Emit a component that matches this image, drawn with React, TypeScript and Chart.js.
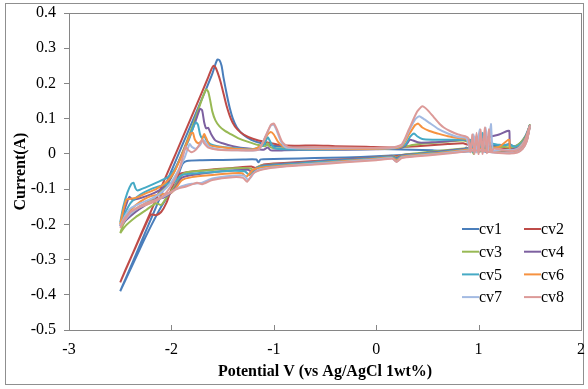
import React, { useEffect, useRef } from 'react';
import { Chart, registerables } from 'chart.js';

Chart.register(...registerables);

const seriesNames = ['cv1', 'cv2', 'cv3', 'cv4', 'cv5', 'cv6', 'cv7', 'cv8'];
const seriesColors = ['#4A7EBB', '#BE4B48', '#98B954', '#7D60A0', '#46AAC5', '#F69240', '#A3BAE2', '#DC9A98'];

const xAxisTicks = [-3, -2, -1, 0, 1, 2];
const yAxisRange = [-0.5, 0.4];

// [potential V, current A]
const cv1 = [
  [-2.50, -0.390], [-2.45, -0.356], [-2.35, -0.288], [-2.25, -0.219], [-2.15, -0.151], [-2.05, -0.082], [-1.95, -0.014],
  [-1.85, 0.055], [-1.75, 0.123], [-1.65, 0.192], [-1.60, 0.228], [-1.57, 0.255], [-1.55, 0.268], [-1.53, 0.266],
  [-1.51, 0.250], [-1.49, 0.215], [-1.46, 0.170], [-1.43, 0.130], [-1.40, 0.100], [-1.36, 0.075], [-1.30, 0.055],
  [-1.22, 0.040], [-1.12, 0.030], [-1.02, 0.024], [-0.90, 0.020], [-0.70, 0.018], [-0.40, 0.016], [-0.10, 0.015],
  [0.15, 0.013], [0.35, 0.012], [0.55, 0.010], [0.75, 0.009], [0.82, 0.012], [0.85, 0.008], [0.88, 0.018],
  [0.90, 0.010], [0.93, 0.016], [0.96, 0.012], [1.00, 0.020], [1.05, 0.022], [1.10, 0.024], [1.15, 0.023],
  [1.20, 0.026], [1.25, 0.024], [1.30, 0.028], [1.34, 0.022], [1.38, 0.025], [1.42, 0.035], [1.46, 0.052], [1.50, 0.080],
  [1.47, 0.045], [1.43, 0.022], [1.38, 0.010], [1.30, 0.005], [1.15, 0.005], [1.00, 0.008], [0.85, 0.006],
  [0.60, 0.002], [0.40, -0.001], [0.20, -0.004], [0.00, -0.007], [-0.30, -0.010], [-0.60, -0.012], [-0.90, -0.014],
  [-1.10, -0.015], [-1.13, -0.016], [-1.15, -0.024], [-1.17, -0.016], [-1.30, -0.016], [-1.50, -0.017],
  [-1.70, -0.018], [-1.85, -0.020], [-1.89, -0.028], [-1.92, -0.050], [-1.95, -0.080], [-2.00, -0.105],
  [-2.10, -0.150], [-2.20, -0.205], [-2.30, -0.265], [-2.40, -0.328], [-2.50, -0.390],
];

const cv2 = [
  [-2.50, -0.365], [-2.40, -0.298], [-2.30, -0.230], [-2.20, -0.163], [-2.10, -0.095], [-2.00, -0.028], [-1.90, 0.040],
  [-1.80, 0.108], [-1.70, 0.176], [-1.64, 0.218], [-1.61, 0.240], [-1.59, 0.250], [-1.57, 0.246], [-1.55, 0.232],
  [-1.52, 0.205], [-1.49, 0.170], [-1.46, 0.135], [-1.42, 0.100], [-1.38, 0.078], [-1.32, 0.060], [-1.25, 0.048],
  [-1.15, 0.038], [-1.05, 0.032], [-0.95, 0.026], [-0.80, 0.023], [-0.60, 0.024], [-0.40, 0.022], [-0.10, 0.020],
  [0.15, 0.018], [0.30, 0.020], [0.50, 0.024], [0.70, 0.028], [0.85, 0.030], [0.90, 0.026], [0.93, 0.040],
  [0.95, 0.015], [0.98, 0.045], [1.00, 0.012], [1.03, 0.040], [1.06, 0.015], [1.10, 0.020], [1.20, 0.018],
  [1.30, 0.016], [1.38, 0.020], [1.43, 0.033], [1.47, 0.053], [1.50, 0.080],
  [1.47, 0.040], [1.43, 0.018], [1.38, 0.008], [1.30, 0.004], [1.10, 0.006], [0.95, 0.012], [0.75, 0.006],
  [0.50, 0.000], [0.25, -0.005], [0.00, -0.010], [-0.30, -0.015], [-0.60, -0.020], [-0.90, -0.026], [-1.10, -0.030],
  [-1.14, -0.035], [-1.18, -0.040], [-1.22, -0.036], [-1.40, -0.040], [-1.60, -0.044], [-1.80, -0.050],
  [-1.90, -0.055], [-1.95, -0.065], [-2.00, -0.100], [-2.05, -0.140], [-2.10, -0.165], [-2.15, -0.174],
  [-2.20, -0.172], [-2.25, -0.200], [-2.35, -0.265], [-2.45, -0.330], [-2.50, -0.365],
];

const cv3 = [
  [-2.50, -0.225], [-2.47, -0.200], [-2.42, -0.178], [-2.35, -0.160], [-2.25, -0.140], [-2.15, -0.120], [-2.05, -0.090],
  [-1.98, -0.055], [-1.92, -0.015], [-1.85, 0.035], [-1.78, 0.090], [-1.72, 0.140], [-1.68, 0.172], [-1.66, 0.183],
  [-1.64, 0.176], [-1.62, 0.150], [-1.60, 0.120], [-1.57, 0.095], [-1.53, 0.078], [-1.48, 0.066], [-1.42, 0.056],
  [-1.35, 0.045], [-1.25, 0.034], [-1.15, 0.025], [-1.08, 0.022], [-1.06, 0.030], [-1.04, 0.020], [-1.00, 0.016],
  [-0.80, 0.015], [-0.50, 0.016], [-0.20, 0.015], [0.10, 0.015], [0.25, 0.018], [0.35, 0.025], [0.50, 0.030],
  [0.70, 0.035], [0.85, 0.038], [0.92, 0.030], [0.95, 0.000], [0.97, 0.030], [1.00, 0.005], [1.05, 0.015],
  [1.15, 0.018], [1.25, 0.020], [1.32, 0.018], [1.38, 0.025], [1.43, 0.038], [1.47, 0.055], [1.50, 0.082],
  [1.47, 0.042], [1.43, 0.020], [1.38, 0.010], [1.30, 0.006], [1.15, 0.008], [1.00, 0.020], [0.85, 0.015],
  [0.60, 0.008], [0.40, 0.002], [0.25, -0.003], [0.20, -0.010], [0.15, -0.005], [0.00, -0.010], [-0.30, -0.016],
  [-0.60, -0.022], [-0.90, -0.028], [-1.10, -0.032], [-1.15, -0.036], [-1.19, -0.048], [-1.22, -0.042],
  [-1.30, -0.040], [-1.50, -0.043], [-1.70, -0.048], [-1.85, -0.052], [-1.90, -0.060], [-1.95, -0.085],
  [-2.00, -0.105], [-2.05, -0.125], [-2.10, -0.145], [-2.15, -0.140], [-2.25, -0.160], [-2.35, -0.180],
  [-2.45, -0.205], [-2.50, -0.225],
];

const cv4 = [
  [-2.50, -0.205], [-2.47, -0.170], [-2.43, -0.135], [-2.41, -0.122], [-2.38, -0.130], [-2.30, -0.125], [-2.20, -0.115],
  [-2.10, -0.100], [-2.02, -0.075], [-1.95, -0.035], [-1.88, 0.010], [-1.80, 0.065], [-1.75, 0.105], [-1.72, 0.128],
  [-1.70, 0.124], [-1.68, 0.090], [-1.66, 0.072], [-1.64, 0.074], [-1.61, 0.055], [-1.57, 0.038], [-1.50, 0.030],
  [-1.40, 0.022], [-1.25, 0.015], [-1.10, 0.012], [-1.06, 0.018], [-1.03, 0.010], [-0.90, 0.010], [-0.60, 0.012],
  [-0.30, 0.012], [0.00, 0.013], [0.20, 0.015], [0.28, 0.022], [0.33, 0.040], [0.36, 0.038], [0.42, 0.032],
  [0.55, 0.033], [0.70, 0.036], [0.85, 0.040], [0.92, 0.035], [0.95, 0.010], [0.98, 0.045], [1.01, 0.012],
  [1.05, 0.040], [1.10, 0.048], [1.20, 0.055], [1.28, 0.065], [1.30, 0.065], [1.31, 0.012], [1.38, 0.018],
  [1.43, 0.033], [1.47, 0.052], [1.50, 0.080],
  [1.47, 0.040], [1.43, 0.018], [1.38, 0.008], [1.30, 0.005], [1.15, 0.007], [1.00, 0.018], [0.85, 0.014],
  [0.60, 0.006], [0.40, 0.000], [0.25, -0.004], [0.20, -0.012], [0.15, -0.006], [0.00, -0.010], [-0.30, -0.016],
  [-0.60, -0.022], [-0.90, -0.028], [-1.10, -0.033], [-1.16, -0.040], [-1.21, -0.052], [-1.25, -0.045],
  [-1.40, -0.047], [-1.60, -0.052], [-1.80, -0.060], [-1.90, -0.068], [-1.95, -0.090], [-2.00, -0.110],
  [-2.08, -0.125], [-2.15, -0.128], [-2.25, -0.145], [-2.35, -0.165], [-2.45, -0.190], [-2.50, -0.205],
];

const cv5 = [
  [-2.50, -0.195], [-2.47, -0.150], [-2.43, -0.110], [-2.39, -0.085], [-2.37, -0.082], [-2.35, -0.098], [-2.33, -0.104],
  [-2.25, -0.095], [-2.14, -0.081], [-2.03, -0.065], [-1.96, -0.040], [-1.90, -0.005], [-1.83, 0.040], [-1.78, 0.080],
  [-1.76, 0.090], [-1.74, 0.082], [-1.72, 0.055], [-1.70, 0.045], [-1.68, 0.052], [-1.66, 0.040], [-1.62, 0.028],
  [-1.55, 0.022], [-1.40, 0.017], [-1.20, 0.014], [-1.10, 0.025], [-1.06, 0.047], [-1.04, 0.038], [-1.00, 0.018],
  [-0.90, 0.013], [-0.60, 0.012], [-0.30, 0.013], [0.00, 0.014], [0.20, 0.016], [0.28, 0.025], [0.33, 0.048],
  [0.37, 0.058], [0.40, 0.050], [0.45, 0.042], [0.55, 0.040], [0.70, 0.040], [0.85, 0.040], [0.92, 0.040],
  [0.95, 0.005], [0.98, 0.050], [1.01, 0.008], [1.04, 0.060], [1.07, 0.008], [1.10, 0.030], [1.20, 0.025],
  [1.30, 0.026], [1.36, 0.020], [1.42, 0.030], [1.47, 0.052], [1.50, 0.080],
  [1.47, 0.040], [1.43, 0.018], [1.38, 0.008], [1.30, 0.004], [1.15, 0.006], [1.00, 0.016], [0.85, 0.012],
  [0.60, 0.004], [0.40, -0.001], [0.25, -0.006], [0.20, -0.015], [0.15, -0.008], [0.00, -0.012], [-0.30, -0.018],
  [-0.60, -0.024], [-0.90, -0.030], [-1.10, -0.035], [-1.18, -0.042], [-1.24, -0.060], [-1.28, -0.050],
  [-1.40, -0.048], [-1.60, -0.052], [-1.80, -0.056], [-1.90, -0.060], [-1.95, -0.075], [-2.00, -0.082],
  [-2.10, -0.090], [-2.20, -0.100], [-2.30, -0.115], [-2.40, -0.140], [-2.50, -0.195],
];

const cv6 = [
  [-2.50, -0.200], [-2.47, -0.160], [-2.44, -0.130], [-2.42, -0.128], [-2.35, -0.125], [-2.25, -0.112], [-2.15, -0.100],
  [-2.05, -0.080], [-1.97, -0.050], [-1.90, -0.005], [-1.85, 0.030], [-1.81, 0.058], [-1.79, 0.060], [-1.77, 0.040],
  [-1.74, 0.030], [-1.71, 0.035], [-1.68, 0.056], [-1.66, 0.045], [-1.63, 0.025], [-1.55, 0.020], [-1.40, 0.015],
  [-1.20, 0.013], [-1.12, 0.025], [-1.07, 0.052], [-1.03, 0.062], [-1.00, 0.055], [-0.96, 0.035], [-0.90, 0.020],
  [-0.70, 0.015], [-0.40, 0.014], [-0.10, 0.014], [0.15, 0.016], [0.25, 0.022], [0.32, 0.055], [0.38, 0.082],
  [0.41, 0.086], [0.45, 0.075], [0.52, 0.065], [0.60, 0.058], [0.70, 0.050], [0.80, 0.045], [0.88, 0.042],
  [0.92, 0.020], [0.95, 0.050], [0.98, 0.005], [1.01, 0.055], [1.04, 0.008], [1.07, 0.050], [1.10, 0.015],
  [1.20, 0.020], [1.29, 0.040], [1.30, 0.040], [1.31, 0.010], [1.38, 0.015], [1.43, 0.030], [1.47, 0.050], [1.50, 0.078],
  [1.47, 0.038], [1.43, 0.016], [1.38, 0.006], [1.30, 0.003], [1.15, 0.006], [1.00, 0.015], [0.85, 0.010],
  [0.60, 0.002], [0.40, -0.003], [0.25, -0.008], [0.20, -0.018], [0.15, -0.010], [0.00, -0.014], [-0.30, -0.020],
  [-0.60, -0.027], [-0.90, -0.033], [-1.10, -0.038], [-1.20, -0.045], [-1.27, -0.065], [-1.31, -0.055],
  [-1.40, -0.055], [-1.60, -0.060], [-1.80, -0.066], [-1.90, -0.075], [-1.95, -0.095], [-2.00, -0.110],
  [-2.10, -0.115], [-2.20, -0.120], [-2.30, -0.135], [-2.40, -0.160], [-2.50, -0.200],
];

const cv7 = [
  [-2.50, -0.205], [-2.45, -0.175], [-2.40, -0.155], [-2.30, -0.140], [-2.20, -0.128], [-2.10, -0.110], [-2.00, -0.080],
  [-1.92, -0.040], [-1.87, -0.010], [-1.84, 0.015], [-1.82, 0.028], [-1.80, 0.020], [-1.76, 0.015], [-1.72, 0.025],
  [-1.69, 0.040], [-1.66, 0.030], [-1.62, 0.018], [-1.50, 0.012], [-1.30, 0.010], [-1.15, 0.012], [-1.08, 0.050],
  [-1.03, 0.080], [-1.00, 0.083], [-0.97, 0.065], [-0.93, 0.035], [-0.88, 0.018], [-0.70, 0.016], [-0.40, 0.016],
  [-0.10, 0.016], [0.15, 0.017], [0.25, 0.025], [0.32, 0.065], [0.38, 0.098], [0.42, 0.107], [0.46, 0.100],
  [0.52, 0.088], [0.60, 0.072], [0.70, 0.058], [0.80, 0.048], [0.88, 0.045], [0.92, 0.010], [0.95, 0.055],
  [0.98, 0.005], [1.01, 0.070], [1.04, 0.005], [1.07, 0.075], [1.09, 0.005], [1.12, 0.085], [1.14, 0.010],
  [1.20, 0.012], [1.30, 0.010], [1.38, 0.014], [1.43, 0.028], [1.47, 0.048], [1.50, 0.078],
  [1.47, 0.036], [1.43, 0.015], [1.38, 0.005], [1.30, 0.002], [1.15, 0.005], [1.00, 0.012], [0.85, 0.008],
  [0.60, 0.000], [0.40, -0.005], [0.25, -0.010], [0.20, -0.022], [0.15, -0.012], [0.00, -0.016], [-0.30, -0.022],
  [-0.60, -0.028], [-0.90, -0.035], [-1.10, -0.042], [-1.18, -0.050], [-1.25, -0.074], [-1.29, -0.062],
  [-1.40, -0.062], [-1.60, -0.070], [-1.70, -0.082], [-1.80, -0.085], [-1.90, -0.092], [-2.00, -0.108],
  [-2.10, -0.125], [-2.20, -0.138], [-2.30, -0.150], [-2.40, -0.170], [-2.50, -0.205],
];

const cv8 = [
  [-2.50, -0.210], [-2.45, -0.185], [-2.40, -0.165], [-2.30, -0.150], [-2.20, -0.140], [-2.10, -0.125], [-2.00, -0.090],
  [-1.93, -0.050], [-1.89, -0.010], [-1.86, 0.020], [-1.84, 0.012], [-1.80, 0.005], [-1.76, 0.012], [-1.72, 0.030],
  [-1.70, 0.040], [-1.68, 0.030], [-1.64, 0.018], [-1.55, 0.012], [-1.35, 0.010], [-1.15, 0.012], [-1.08, 0.050],
  [-1.03, 0.082], [-1.00, 0.086], [-0.97, 0.070], [-0.92, 0.035], [-0.86, 0.020], [-0.70, 0.018], [-0.40, 0.018],
  [-0.10, 0.017], [0.15, 0.018], [0.25, 0.027], [0.32, 0.070], [0.40, 0.120], [0.45, 0.135], [0.50, 0.125],
  [0.56, 0.105], [0.62, 0.085], [0.66, 0.075], [0.72, 0.065], [0.80, 0.055], [0.87, 0.050], [0.90, 0.045],
  [0.92, 0.005], [0.94, 0.055], [0.96, 0.000], [0.98, 0.060], [1.00, 0.000], [1.02, 0.070], [1.04, 0.000],
  [1.06, 0.075], [1.08, 0.002], [1.10, 0.070], [1.12, 0.005], [1.15, 0.015], [1.25, 0.010], [1.33, 0.008],
  [1.40, 0.015], [1.45, 0.035], [1.50, 0.080],
  [1.47, 0.035], [1.43, 0.014], [1.38, 0.004], [1.30, 0.001], [1.15, 0.004], [1.00, 0.010], [0.85, 0.006],
  [0.60, -0.002], [0.40, -0.007], [0.25, -0.012], [0.20, -0.023], [0.16, -0.014], [0.00, -0.018], [-0.30, -0.024],
  [-0.60, -0.030], [-0.90, -0.036], [-1.10, -0.044], [-1.20, -0.055], [-1.26, -0.079], [-1.30, -0.068],
  [-1.40, -0.066], [-1.60, -0.074], [-1.70, -0.086], [-1.75, -0.082], [-1.85, -0.092], [-1.95, -0.100],
  [-2.05, -0.115], [-2.15, -0.130], [-2.25, -0.140], [-2.35, -0.155], [-2.45, -0.180], [-2.50, -0.210],
];

const allSeries = [cv1, cv2, cv3, cv4, cv5, cv6, cv7, cv8];

const SERIF = '"Liberation Serif", "Times New Roman", Times, serif';
const AXIS_GREY = '#868686';

const framePlugin = {
  id: 'frame',
  beforeDraw(chart: any) {
    const { ctx, width, height } = chart;
    ctx.save();
    ctx.fillStyle = '#ffffff';
    ctx.fillRect(0, 0, width, height);
    ctx.strokeStyle = '#8f8f8f';
    ctx.lineWidth = 1;
    ctx.strokeRect(5.5, 3.5, width - 10, height - 8);
    ctx.restore();
  },
  afterDraw(chart: any) {
    const { ctx, chartArea } = chart;
    const { left, right, top, bottom } = chartArea;
    ctx.save();
    ctx.strokeStyle = AXIS_GREY;
    ctx.lineWidth = 1;
    ctx.strokeRect(Math.round(left) + 0.5, Math.round(top) + 0.5, Math.round(right - left), Math.round(bottom - top));
    const xs = chart.scales.x;
    ctx.beginPath();
    xs.ticks.forEach((t: any) => {
      const px = Math.round(xs.getPixelForValue(t.value)) + 0.5;
      ctx.moveTo(px, Math.round(bottom));
      ctx.lineTo(px, Math.round(bottom) - 5);
    });
    ctx.stroke();

    // legend inside plot area
    ctx.font = '16px ' + SERIF;
    ctx.textBaseline = 'middle';
    ctx.textAlign = 'left';
    seriesNames.forEach((name, i) => {
      const col = i % 2;
      const row = Math.floor(i / 2);
      const x0 = right - 119 + col * 62;
      const y = bottom - 101 + row * 22.7;
      ctx.strokeStyle = seriesColors[i];
      ctx.lineWidth = 2;
      ctx.beginPath();
      ctx.moveTo(x0, y);
      ctx.lineTo(x0 + 17, y);
      ctx.stroke();
      ctx.fillStyle = '#000';
      ctx.fillText(name, x0 + 17, y + 1);
    });
    ctx.restore();
  },
};

export default function App() {
  const canvasRef = useRef<HTMLCanvasElement | null>(null);

  useEffect(() => {
    document.body.style.margin = '0';
    const canvas = canvasRef.current;
    if (!canvas) return;
    const datasets = allSeries.map((pts, i) => ({
      label: seriesNames[i],
      data: pts.map(([x, y]) => ({ x, y })),
      borderColor: seriesColors[i],
      backgroundColor: seriesColors[i],
      borderWidth: 2,
      pointRadius: 0,
      showLine: true,
      fill: false,
      tension: 0.2,
      order: seriesNames.length - i,
    }));
    const chart = new Chart(canvas, {
      type: 'scatter',
      data: { datasets },
      plugins: [framePlugin],
      options: {
        responsive: false,
        animation: false,
        devicePixelRatio: 1,
        events: [],
        layout: { padding: { left: 0, right: 7, top: 13, bottom: 0 } },
        plugins: {
          legend: { display: false },
          tooltip: { enabled: false },
        },
        scales: {
          x: {
            type: 'linear',
            min: xAxisTicks[0],
            max: xAxisTicks[xAxisTicks.length - 1],
            afterFit: (s: any) => { s.height = 59; s.paddingLeft = 0; s.paddingRight = 0; },
            afterBuildTicks: (s: any) => { s.ticks = xAxisTicks.map((v) => ({ value: v })); },
            ticks: {
              stepSize: 1,
              padding: 10,
              color: '#000',
              font: { family: SERIF, size: 16 },
              callback: (v: any) => String(v),
            },
            grid: { display: true, drawOnChartArea: false, drawTicks: false, color: AXIS_GREY },
            border: { display: true, color: AXIS_GREY, width: 1 },
            title: {
              display: true,
              text: 'Potential V (vs Ag/AgCl 1wt%)',
              color: '#000',
              font: { family: SERIF, size: 16, weight: 'bold' },
              padding: { top: 0, bottom: 8 },
            },
          },
          y: {
            type: 'linear',
            min: yAxisRange[0],
            max: yAxisRange[1],
            afterFit: (s: any) => { s.width = 69; s.paddingTop = 0; s.paddingBottom = 0; },
            ticks: {
              stepSize: 0.1,
              padding: 8,
              color: '#000',
              font: { family: SERIF, size: 16 },
              callback: (v: any) => {
                const r = Math.round(Number(v) * 10) / 10;
                return r === 0 ? '0' : String(r);
              },
            },
            grid: { display: true, drawOnChartArea: false, drawTicks: true, tickLength: 5, color: AXIS_GREY },
            border: { display: true, color: AXIS_GREY, width: 1 },
            title: {
              display: true,
              text: 'Current(A)',
              color: '#000',
              font: { family: SERIF, size: 16, weight: 'bold' },
              padding: { top: 11, bottom: 0 },
            },
          },
        },
      },
    });
    return () => chart.destroy();
  }, []);

  return (
    <div style={{ width: 588, height: 389, position: 'relative' }}>
      <canvas ref={canvasRef} width={588} height={389} style={{ display: 'block', width: 588, height: 389 }} />
    </div>
  );
}
